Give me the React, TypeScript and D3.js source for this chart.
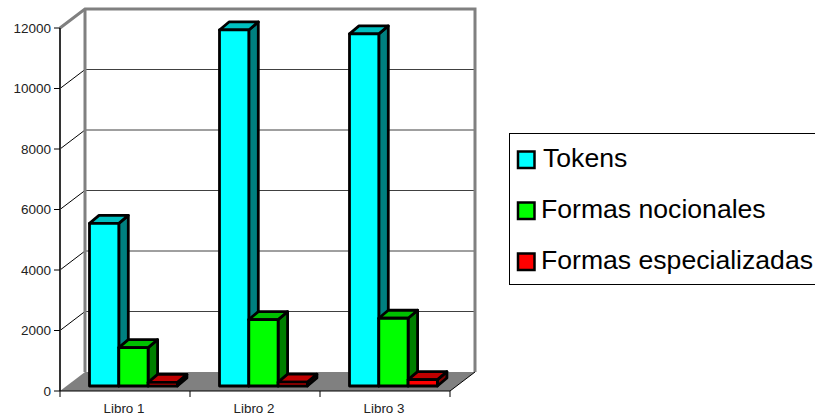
import React from "react";
import * as d3 from "d3";

const books = ["Libro 1", "Libro 2", "Libro 3"];
const tokens = [5375, 11770, 11640];
const notional = [1270, 2195, 2240];
const specialized = [120, 130, 210];
const yTicks = [0, 2000, 4000, 6000, 8000, 10000, 12000];

const seriesNames = ["Tokens", "Formas nocionales", "Formas especializadas"];
const seriesValues = [tokens, notional, specialized];
const frontColors = ["#00ffff", "#00ff00", "#ff0000"];
const sideColors = ["#008080", "#008000", "#800000"];
const topColors = ["#00c0c0", "#00c000", "#c00000"];

const FONT = "'Liberation Sans', Arial, sans-serif";
const wallDx = 25;
const wallDy = -19;
const barDx = 9.5;
const barDy = -8;
const barInsetX = 29.5;
const barInsetY = -5;
const barWidth = 29.3;

export default function App() {
  const y = d3.scaleLinear().domain([0, 12000]).range([391, 28]);
  const x = d3.scaleBand().domain(books).range([60, 450]);
  const slot = d3.scaleBand().domain(seriesNames).range([0, barWidth * 3]);
  const y0 = y(0);
  const x0 = x.range()[0];
  const x1 = x.range()[1];
  const yTop = y(12000);
  const pts = (p: number[][]) => p.map((q) => q.join(",")).join(" ");
  const edges = [...books.map((b) => x(b) as number), x1];

  return (
    <svg width={815} height={416} style={{ position: "absolute", left: 0, top: 0 }}>
      <rect width={815} height={416} fill="#fff" />

      {/* floor */}
      <polygon
        points={pts([[x0, y0], [x1, y0], [x1 + wallDx, y0 + wallDy], [x0 + wallDx, y0 + wallDy]])}
        fill="#808080"
      />

      {/* gridlines running along the side and back walls */}
      {yTicks.slice(1, -1).map((t) => (
        <g key={t} fill="none">
          <line x1={x0} y1={y(t)} x2={x0 + wallDx} y2={y(t) + wallDy} stroke="#000" strokeWidth={1} />
          <line x1={x0 + wallDx} y1={y(t) + wallDy} x2={x1 + wallDx} y2={y(t) + wallDy} stroke="#404040" strokeWidth={1} />
        </g>
      ))}

      {/* wall frame */}
      <polyline
        points={pts([[x0, yTop], [x0 + wallDx, yTop + wallDy], [x1 + wallDx, yTop + wallDy], [x1 + wallDx, y0 + wallDy]])}
        fill="none"
        stroke="#808080"
        strokeWidth={3}
      />
      <line x1={x0 + wallDx} y1={yTop + wallDy} x2={x0 + wallDx} y2={y0 + wallDy} stroke="#808080" strokeWidth={3} />
      <line x1={x1} y1={y0} x2={x1 + wallDx} y2={y0 + wallDy} stroke="#000" strokeWidth={1} />

      {/* axes */}
      <line x1={x0} y1={yTop} x2={x0} y2={y0} stroke="#333" strokeWidth={2} />
      <line x1={x0} y1={y0} x2={x1} y2={y0} stroke="#000" strokeWidth={1} />
      {yTicks.map((t) => (
        <g key={t}>
          <line x1={x0 - 6} y1={y(t)} x2={x0} y2={y(t)} stroke="#000" strokeWidth={1} />
          <text x={x0 - 9} y={y(t) + 4.5} textAnchor="end" fontFamily={FONT} fontSize={13.5} fill="#222">
            {t}
          </text>
        </g>
      ))}
      {edges.map((e) => (
        <line key={e} x1={e} y1={y0} x2={e} y2={y0 + 6} stroke="#000" strokeWidth={1} />
      ))}
      {books.map((b) => (
        <text
          key={b}
          x={(x(b) as number) + x.bandwidth() / 2 - 1}
          y={413}
          textAnchor="middle"
          fontFamily={FONT}
          fontSize={13.4}
          fill="#222"
        >
          {b}
        </text>
      ))}

      {/* bars: side and top faces first, then the front face */}
      {books.map((b, i) =>
        seriesNames.map((s, k) => {
          const left = (x(b) as number) + barInsetX + (slot(s) as number);
          const right = left + barWidth;
          const bottom = y0 + barInsetY;
          const top = y(seriesValues[k][i]) + barInsetY;
          return (
            <g key={b + s} stroke="#000" strokeWidth={2.8} strokeLinejoin="round">
              <polygon
                points={pts([[right, bottom], [right + barDx, bottom + barDy], [right + barDx, top + barDy], [right, top]])}
                fill={sideColors[k]}
              />
              <polygon
                points={pts([[left, top], [right, top], [right + barDx, top + barDy], [left + barDx, top + barDy]])}
                fill={topColors[k]}
              />
              <rect x={left} y={top} width={barWidth} height={bottom - top} fill={frontColors[k]} />
            </g>
          );
        })
      )}

      {/* legend */}
      <rect x={509.5} y={133.5} width={320} height={151} fill="#fff" stroke="#000" strokeWidth={1} />
      {seriesNames.map((s, k) => {
        const cy = 159.5 + k * 51;
        return (
          <g key={s}>
            <rect x={518} y={cy - 8} width={16.5} height={16.5} fill={frontColors[k]} stroke="#000" strokeWidth={2.5} />
            <text x={k === 0 ? 543 : 541} y={cy + 7.5} fontFamily={FONT} fontSize={26.6} fill="#000">
              {s}
            </text>
          </g>
        );
      })}
    </svg>
  );
}
